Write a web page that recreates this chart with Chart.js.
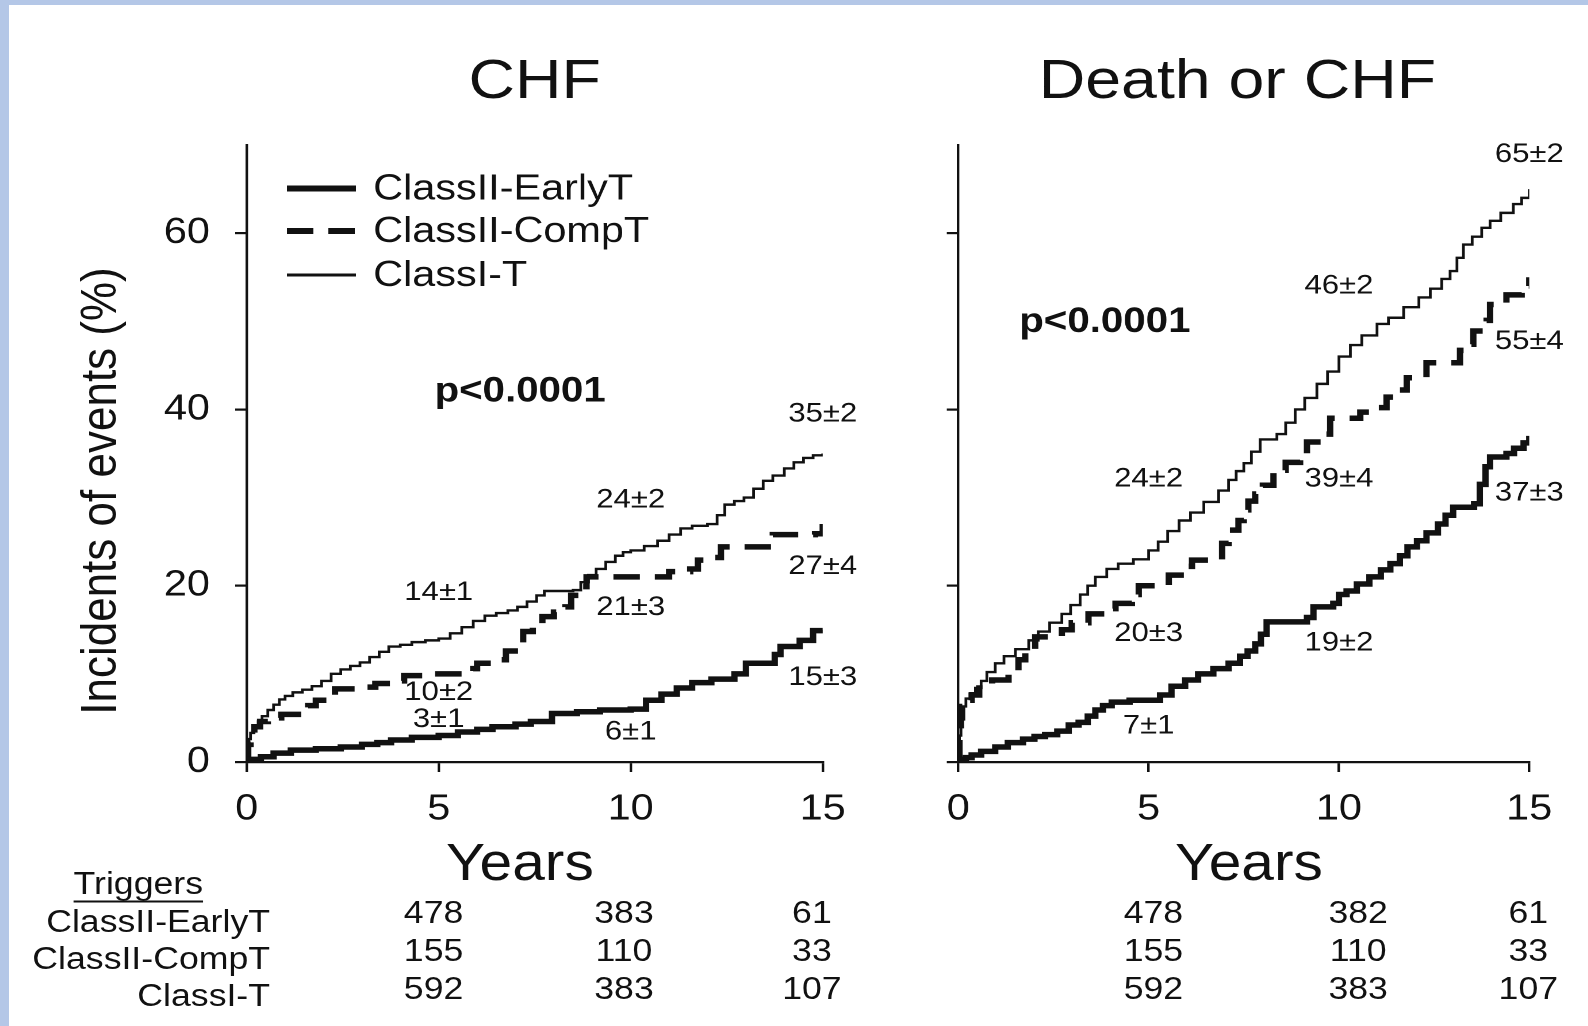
<!DOCTYPE html>
<html>
<head>
<meta charset="utf-8">
<script src="https://cdn.jsdelivr.net/npm/chart.js@4.4.1/dist/chart.umd.min.js"></script>
<style>
    html, body { margin: 0; padding: 0; }
    body {
        width: 1588px; height: 1026px; overflow: hidden; position: relative;
        background: #b4c7e7;
        font-family: "Liberation Sans", Arial, sans-serif; color: #111;
    }
    #sheet { position: absolute; left: 9px; top: 5px; right: 0; bottom: 0; background: #fff; }
    /* the figure is laid out narrow and widened, like the scanned original */
    #page {
        position: absolute; left: 0; top: 0; width: 1381px; height: 1026px;
        transform: scaleX(1.15); transform-origin: 0 0;
    }
    .t { position: absolute; white-space: nowrap; line-height: 1; transform: translate(-50%, -50%); }
    .r { transform: translate(-100%, -50%); }
    .ytitle { transform: translate(-50%, -50%) rotate(-90deg); }
    .under { text-decoration: underline; text-decoration-thickness: 2px; text-underline-offset: 7px; transform: translate(0, -50%); }
    canvas { position: absolute; }
    #chf { left: 110px; top: 130px; }
    #death { left: 793px; top: 130px; }
</style>
</head>
<body>
<div id="sheet"></div>
<div id="page">
    <div class="t" style="left:465px; top:79px; font-size:56px">CHF</div>
    <div class="t" style="left:1076px; top:79px; font-size:56px">Death or CHF</div>
    <div class="t ytitle" style="left:86px; top:491px; font-size:44px">Incidents of events (%)</div>
    <canvas id="chf" width="650" height="702"></canvas>
    <canvas id="death" width="582" height="702"></canvas>
    <div class="t" style="left:452px; top:862px; font-size:51px">Years</div>
    <div class="t" style="left:1086px; top:862px; font-size:51px">Years</div>
    <div class="t under" style="left:64px; top:883px; font-size:31px">Triggers</div>
    <div id="tbl"></div>
</div>
<script>
// Cumulative incidence (%) by year, [years, percent]
const chfEarly = [[0,0],[0.1,0.3],[0.37,0.6],[0.7,1.0],[1.15,1.35],[1.8,1.5],[2.45,1.7],[3.0,2.0],[3.4,2.2],[3.76,2.5],[4.3,2.8],[5.0,3],[5.5,3.4],[6.0,3.7],[6.4,4.0],[7.0,4.3],[7.4,4.6],[7.95,5.5],[8.6,5.7],[9.2,5.9],[10.0,6],[10.4,7.0],[10.8,7.7],[11.2,8.4],[11.6,9.0],[12.1,9.4],[12.7,10.0],[13.0,11.2],[13.75,12.2],[13.9,13.1],[14.4,13.8],[14.75,14.9],[15,15]];
const chfComp = [[0,0],[0.04,2.0],[0.1,3.2],[0.2,4.0],[0.35,4.6],[0.55,5.0],[0.9,5.4],[1.45,5.6],[1.6,6.4],[1.8,7.0],[2.1,7.6],[2.3,8.3],[3.1,8.5],[3.35,8.9],[3.9,9.2],[4.1,9.8],[4.6,10.0],[5.0,10],[5.9,10.6],[6.0,11.2],[6.5,11.6],[6.75,12.6],[7.1,13.4],[7.2,14.8],[7.45,15.7],[7.7,16.5],[8.0,17.0],[8.3,17.6],[8.45,18.9],[8.7,19.9],[8.85,21.0],[10.0,21],[11.0,21.6],[11.55,21.9],[11.75,22.9],[12.2,23.2],[12.35,24.4],[13.45,24.4],[13.7,25.8],[14.8,25.9],[15,27]];
const chfClassI = [[0,0],[0.03,1.5],[0.06,2.6],[0.1,3.3],[0.19,3.9],[0.3,4.6],[0.4,5.2],[0.55,5.9],[0.7,6.5],[0.85,7.1],[1.0,7.5],[1.2,7.9],[1.45,8.2],[1.7,8.6],[1.95,9.2],[2.2,10.0],[2.45,10.5],[2.7,10.9],[2.95,11.3],[3.2,11.9],[3.45,12.5],[3.7,13.1],[4.0,13.3],[4.3,13.6],[4.65,13.8],[5.0,14],[5.3,14.6],[5.6,15.3],[5.9,16.0],[6.2,16.6],[6.5,16.9],[6.8,17.2],[7.05,17.6],[7.3,18.2],[7.55,18.9],[7.75,19.4],[8.5,19.5],[8.7,20.4],[8.9,21.2],[9.1,21.9],[9.35,22.7],[9.6,23.4],[9.8,23.8],[10.0,24],[10.35,24.5],[10.7,25.1],[11.0,25.8],[11.3,26.5],[11.6,26.8],[12.0,27.0],[12.25,28.0],[12.45,29.2],[12.7,29.6],[12.95,30.0],[13.2,31.0],[13.45,31.9],[13.7,32.5],[14.0,33.3],[14.25,34.0],[14.5,34.5],[14.75,34.8],[15.0,35]];

const deathEarly = [[0,0],[0.05,0.3],[0.2,0.5],[0.35,0.8],[0.6,1.2],[0.97,1.7],[1.3,2.2],[1.7,2.6],[2.0,2.9],[2.28,3.1],[2.6,3.5],[2.9,4.2],[3.16,4.5],[3.4,5.2],[3.6,5.9],[3.8,6.4],[4.03,6.8],[4.5,7.0],[5.0,7],[5.3,7.6],[5.6,8.6],[5.96,9.3],[6.3,10.0],[6.7,10.6],[7.1,11.2],[7.4,12.0],[7.6,12.6],[7.8,13.4],[7.95,14.5],[8.1,15.9],[9.16,16.4],[9.33,17.6],[9.85,18.0],[10.0,19],[10.2,19.4],[10.47,20.2],[10.8,21.0],[11.1,21.8],[11.35,22.5],[11.6,23.4],[11.8,24.4],[12.05,25.1],[12.3,26.0],[12.6,27.0],[12.8,28.0],[13.0,28.9],[13.55,29.3],[13.7,31.5],[13.85,33.5],[13.97,34.6],[14.4,35.0],[14.6,35.6],[14.85,36.2],[15,37]];
const deathComp = [[0,0],[0.03,3.0],[0.07,5.0],[0.1,6.3],[0.2,7.0],[0.35,7.6],[0.55,8.4],[0.89,9.3],[1.32,10.4],[1.58,11.6],[1.76,12.7],[2.02,14.2],[2.72,15.0],[2.98,15.8],[3.42,16.8],[3.86,17.4],[4.13,18.0],[4.56,19.0],[4.74,20],[5.0,20],[5.53,21.2],[5.96,22.2],[6.14,22.9],[6.93,24.8],[7.1,26.3],[7.36,27.4],[7.5,28.6],[7.62,29.6],[7.8,30.4],[8.0,31.4],[8.28,33.1],[8.6,34.0],[8.98,35.0],[9.16,36.3],[9.6,37.2],[9.77,39],[10.0,39],[10.56,39.7],[11.0,40.2],[11.25,41.4],[11.5,42.2],[11.78,43.6],[12.3,45.3],[13.18,46.7],[13.36,47.4],[13.53,48.9],[13.88,50.1],[13.97,51.9],[14.4,53.0],[14.8,54.0],[15.0,55]];
const deathClassI = [[0,0],[0.03,3.0],[0.07,5.0],[0.1,6.3],[0.2,7.2],[0.32,7.8],[0.45,8.4],[0.6,9.2],[0.75,10.2],[0.97,11.2],[1.2,12.0],[1.5,12.8],[1.85,13.8],[2.1,14.8],[2.4,15.8],[2.72,16.8],[2.95,17.8],[3.2,19.0],[3.4,20.0],[3.6,21.0],[3.9,21.9],[4.2,22.5],[4.6,23.0],[5.0,24],[5.25,25.0],[5.5,26.2],[5.8,27.4],[6.1,28.3],[6.45,29.5],[6.84,30.8],[7.1,32.0],[7.3,33.0],[7.5,33.9],[7.7,35.2],[7.93,36.6],[8.37,37.2],[8.6,38.5],[8.85,40.0],[9.1,41.3],[9.42,42.9],[9.7,44.3],[10.0,46],[10.3,47.3],[10.6,48.4],[11.0,49.7],[11.3,50.4],[11.7,51.6],[12.1,52.7],[12.4,53.7],[12.7,54.8],[12.92,55.7],[13.1,57.2],[13.27,58.7],[13.5,59.6],[13.75,60.6],[13.97,61.4],[14.25,62.3],[14.58,63.3],[14.8,64.0],[15.0,65]];

// Estimates +/- SE at 5, 10 and 15 years
const estYears = [5, 10, 15];
const chfEarlyEst = [3, 6, 15],    chfEarlyErr = [1, 1, 3];
const chfCompEst = [10, 21, 27],   chfCompErr = [2, 3, 4];
const chfClassIEst = [14, 24, 35], chfClassIErr = [1, 2, 2];
const deathEarlyEst = [7, 19, 37],    deathEarlyErr = [1, 2, 3];
const deathCompEst = [20, 39, 55],    deathCompErr = [3, 4, 4];
const deathClassIEst = [24, 46, 65],  deathClassIErr = [2, 2, 2];

// Numbers at risk
const riskGroups = ['ClassII-EarlyT', 'ClassII-CompT', 'ClassI-T'];
const chfAtRisk = [[478, 383, 61], [155, 110, 33], [592, 383, 107]];
const deathAtRisk = [[478, 382, 61], [155, 110, 33], [592, 383, 107]];

const xTicks = [0, 5, 10, 15];
const yTicks = [0, 20, 40, 60];

// where the estimate labels sit, in axis units (%)
const chfEarlyAt = [4.8, 3.4, 9.6],   chfCompAt = [7.9, 17.5, 22.2],   chfClassIAt = [19.2, 29.7, 39.5];
const deathEarlyAt = [4.1, 13.5, 30.5], deathCompAt = [14.6, 32.1, 47.7], deathClassIAt = [32.1, 54.0, 68.9];

const ink = '#111';
const family = '"Liberation Sans", Arial, sans-serif';
Chart.defaults.font.family = family;
Chart.defaults.color = ink;

function toPoints(rows) {
    return rows.map(r => ({x: r[0], y: r[1]}));
}

function estimateLabels(est, err, at) {
    return estYears.map((yr, i) => ({year: yr, at: at[i], text: est[i] + '\u00b1' + err[i]}));
}

function seriesSets(early, comp, classI) {
    const common = {borderColor: ink, pointRadius: 0, stepped: true, fill: false, borderCapStyle: 'butt', borderJoinStyle: 'miter'};
    return [
        {...common, label: 'ClassII-EarlyT', data: toPoints(early), borderWidth: 5.5},
        {...common, label: 'ClassII-CompT', data: toPoints(comp), borderWidth: 5.5, borderDash: [23, 13]},
        {...common, label: 'ClassI-T', data: toPoints(classI), borderWidth: 2.4}
    ];
}

// estimate labels, p value and the in-plot legend
const notesPlugin = {
    id: 'notes',
    afterDatasetsDraw(chart, args, opts) {
        const ctx = chart.ctx;
        const {x, y} = chart.scales;
        const area = chart.chartArea;
        ctx.save();
        ctx.fillStyle = ink;
        ctx.textAlign = 'center';
        ctx.textBaseline = 'middle';

        ctx.font = '27px ' + family;
        opts.labels.forEach(l => {
            ctx.fillText(l.text, x.getPixelForValue(l.year), y.getPixelForValue(l.at));
        });

        ctx.font = 'bold 35px ' + family;
        ctx.fillText('p<0.0001', x.getPixelForValue(opts.p[0]), y.getPixelForValue(opts.p[1]));

        if (opts.legend) {
            const rows = [43.5, 86, 130];
            ctx.font = '36px ' + family;
            ctx.textAlign = 'left';
            chart.data.datasets.forEach((ds, i) => {
                const ly = area.top + rows[i];
                ctx.beginPath();
                ctx.setLineDash(ds.borderDash || []);
                ctx.lineWidth = ds.borderWidth + 0.5;
                ctx.strokeStyle = ds.borderColor;
                ctx.moveTo(area.left + 35, ly);
                ctx.lineTo(area.left + 95, ly);
                ctx.stroke();
                ctx.setLineDash([]);
                ctx.fillText(ds.label, area.left + 110, ly + 1);
            });
        }
        ctx.restore();
    }
};

function axes(showYLabels, yWidth) {
    const grid = {display: true, drawOnChartArea: false, drawTicks: true, tickLength: 10, color: ink, lineWidth: 2.2};
    const border = {display: true, color: ink, width: 2.2};
    return {
        x: {
            type: 'linear', min: 0, max: 15,
            afterBuildTicks: s => { s.ticks = xTicks.map(v => ({value: v})); },
            ticks: {font: {size: 36}, padding: 16, maxRotation: 0, autoSkip: false},
            grid: grid, border: border,
            afterFit: s => { s.height = 70; s.paddingLeft = 0; s.paddingRight = 0; }
        },
        y: {
            type: 'linear', min: 0, max: 70,
            afterBuildTicks: s => { s.ticks = yTicks.map(v => ({value: v})); },
            ticks: {display: showYLabels, font: {size: 36}, padding: 22},
            grid: grid, border: border,
            afterFit: s => { s.width = yWidth; s.paddingTop = 0; s.paddingBottom = 0; }
        }
    };
}

function makeChart(id, sets, labels, p, legend, yWidth, padRight) {
    return new Chart(document.getElementById(id), {
        type: 'line',
        data: {datasets: sets},
        options: {
            responsive: false,
            devicePixelRatio: 2,
            animation: false,
            layout: {padding: {top: 15, right: padRight, bottom: 0, left: 0}},
            scales: axes(legend, yWidth),
            plugins: {
                legend: {display: false},
                tooltip: {enabled: false},
                notes: {labels: labels, p: p, legend: legend}
            }
        },
        plugins: [notesPlugin]
    });
}

makeChart('chf',
    seriesSets(chfEarly, chfComp, chfClassI),
    [].concat(
        estimateLabels(chfEarlyEst, chfEarlyErr, chfEarlyAt),
        estimateLabels(chfCompEst, chfCompErr, chfCompAt),
        estimateLabels(chfClassIEst, chfClassIErr, chfClassIAt)),
    [7.12, 42.0], true, 104.5, 44.6);

makeChart('death',
    seriesSets(deathEarly, deathComp, deathClassI),
    [].concat(
        estimateLabels(deathEarlyEst, deathEarlyErr, deathEarlyAt),
        estimateLabels(deathCompEst, deathCompErr, deathCompAt),
        estimateLabels(deathClassIEst, deathClassIErr, deathClassIAt)),
    [3.85, 49.9], false, 40.3, 45.2);

// Numbers-at-risk table under the x axes
const tbl = document.getElementById('tbl');
const labelRowY = [921, 958, 995];
const numberRowY = [912, 950, 988];
const chfColX = [377, 542.6, 706];
const deathColX = [1003, 1181, 1329];

function addText(text, left, top, cls) {
    const d = document.createElement('div');
    d.className = 't' + (cls ? ' ' + cls : '');
    d.style.left = left + 'px';
    d.style.top = top + 'px';
    d.style.fontSize = '31px';
    d.textContent = text;
    tbl.appendChild(d);
}

riskGroups.forEach((g, r) => {
    addText(g, 234.8, labelRowY[r], 'r');
    chfAtRisk[r].forEach((n, c) => addText(n, chfColX[c], numberRowY[r]));
    deathAtRisk[r].forEach((n, c) => addText(n, deathColX[c], numberRowY[r]));
});
</script>
</body>
</html>
